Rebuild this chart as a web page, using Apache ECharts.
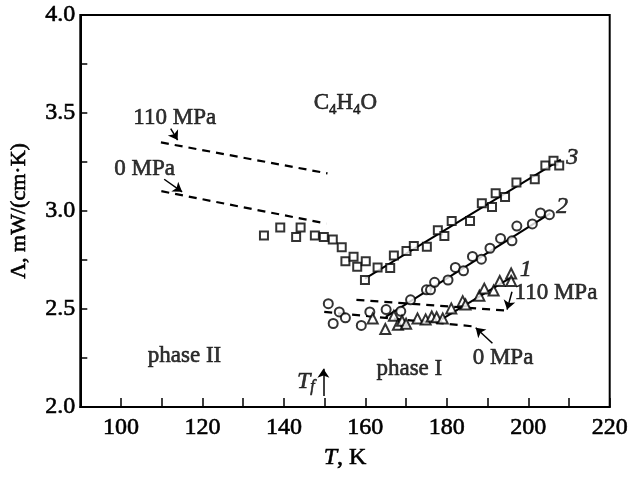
<!DOCTYPE html>
<html>
<head>
<meta charset="utf-8">
<script src="https://cdn.jsdelivr.net/npm/echarts@6/dist/echarts.min.js"></script>
<style>
  html, body { margin: 0; padding: 0; background: #fff; }
  #main { width: 631px; height: 477px; }
</style>
</head>
<body>
<div id="main"></div>
<script>
// curve 3 (squares)
var sqT = [135.1, 139.1, 143.0, 144.1, 147.6, 149.8, 152.0, 154.2, 155.1, 157.1, 158.0, 160.1, 159.9, 163.0, 166.1, 167.0, 170.1, 171.9, 175.1, 177.8, 179.4, 181.2, 185.7, 188.6, 191.1, 192.0, 194.3, 197.1, 201.6, 204.2, 206.2, 207.6];
var sqL = [2.875, 2.916, 2.867, 2.916, 2.875, 2.867, 2.855, 2.815, 2.744, 2.766, 2.716, 2.744, 2.648, 2.712, 2.709, 2.773, 2.796, 2.822, 2.818, 2.902, 2.872, 2.949, 2.949, 3.040, 3.020, 3.091, 3.071, 3.145, 3.162, 3.232, 3.256, 3.232];
// curve 2 (circles)
var ciT = [150.9, 152.1, 153.6, 155.1, 159.0, 161.1, 165.1, 168.7, 171.1, 175.0, 176.0, 177.0, 180.3, 182.1, 184.1, 186.3, 188.5, 190.6, 193.2, 196.0, 197.2, 201.0, 203.0, 205.2];
var ciL = [2.527, 2.426, 2.485, 2.455, 2.416, 2.485, 2.497, 2.488, 2.547, 2.598, 2.598, 2.636, 2.648, 2.712, 2.695, 2.768, 2.754, 2.810, 2.860, 2.848, 2.923, 2.934, 2.990, 2.981];
// curve 1 (triangles)
var trT = [161.8, 164.9, 167.0, 168.0, 169.0, 170.0, 172.8, 174.8, 176.3, 177.5, 179.0, 181.1, 183.9, 184.6, 188.0, 189.2, 191.5, 193.0, 195.8, 195.8];
var trL = [2.452, 2.398, 2.465, 2.420, 2.440, 2.425, 2.452, 2.447, 2.462, 2.458, 2.452, 2.503, 2.540, 2.523, 2.568, 2.604, 2.594, 2.643, 2.681, 2.643];

// fitted solid lines
var fit3 = [[159.9, 2.655], [208.0, 3.262]];
var fit2 = [[165.0, 2.460], [205.4, 2.988]];
var fit1 = [[178.8, 2.448], [196.3, 2.668]];
// dashed lines
var dash110L = [[109.8, 3.350], [150.7, 3.192]];
var dash0L = [[109.9, 3.101], [150.4, 2.936]];
var dash110R = [[157.8, 2.547], [194.8, 2.492]];
var dash0R = [[149.9, 2.485], [187.1, 2.410]];

// arrows [from, to]
var arrows = [
  [[112.2, 3.420], [113.9, 3.362]],
  [[110.6, 3.162], [115.0, 3.098]],
  [[196.0, 2.588], [194.8, 2.497]],
  [[191.2, 2.325], [187.1, 2.404]],
  [[149.7, 2.056], [149.7, 2.195]]
];

// annotation texts and positions
var annoText = ['{m|C}{s|4}{m|H}{s|4}{m|O}', '110 MPa', '0 MPa', '{i|3}', '{i|2}', '{i|1}', '110 MPa', '0 MPa', 'phase II', 'phase I', '{i|T}{si|f}'];
var annoT = [155.1, 113.2, 105.8, 210.8, 208.3, 199.4, 206.8, 193.8, 115.6, 170.8, 145.4];
var annoL = [3.545, 3.473, 3.212, 3.272, 3.022, 2.702, 2.584, 2.250, 2.258, 2.195, 2.131];

var xTicks = [100, 120, 140, 160, 180, 200, 220];

function zip(a, b) {
  return a.map(function (v, i) { return [v, b[i]]; });
}

var chart = echarts.init(document.getElementById('main'));
var font = 'Liberation Serif';
// thin outline to darken the serif glyphs like the scanned figure
var ink = { textBorderColor: '#000', textBorderWidth: 0.6 };

var rich = {
  m: Object.assign({ fontFamily: font, fontSize: 23, lineHeight: 26, verticalAlign: 'top', color: '#000' }, ink),
  s: Object.assign({ fontFamily: font, fontSize: 15, lineHeight: 15, padding: [11, 0, 0, 0], verticalAlign: 'top', color: '#000' }, ink),
  i: Object.assign({ fontFamily: font, fontSize: 24, fontStyle: 'italic', color: '#000' }, ink),
  si: Object.assign({ fontFamily: font, fontSize: 16, fontStyle: 'italic', padding: [10, 0, 0, 0], color: '#000' }, ink)
};

function lineSeries(data, dashed) {
  return {
    type: 'line',
    data: data,
    symbol: 'none',
    silent: true,
    lineStyle: { color: '#000', width: dashed ? 2.2 : 2, type: dashed ? [8, 6] : 'solid' },
    z: 3
  };
}

var hollow = { color: '#fff', borderColor: '#000', borderWidth: 2 };

var option = {
  backgroundColor: '#fff',
  animation: false,
  grid: {
    left: 77, right: 19, top: 15, bottom: 70,
    show: true, borderColor: '#000', borderWidth: 2, backgroundColor: 'transparent'
  },
  xAxis: {
    type: 'value',
    min: 90, max: 220, interval: 10,
    name: '{i|T}, K',
    nameLocation: 'middle',
    nameGap: 34,
    nameTextStyle: Object.assign({ fontFamily: font, fontSize: 24, color: '#000', rich: rich }, ink),
    axisLine: { show: true, lineStyle: { color: '#000', width: 2 } },
    axisTick: { show: true, inside: true, length: 9, lineStyle: { color: '#000', width: 1.5 } },
    axisLabel: Object.assign({
      fontFamily: font, fontSize: 24, color: '#000', margin: 9,
      formatter: function (v) { return xTicks.indexOf(v) >= 0 ? String(v) : ''; }
    }, ink),
    splitLine: { show: false }
  },
  yAxis: {
    type: 'value',
    min: 2, max: 4, interval: 0.25,
    name: 'Λ, mW/(cm·K)',
    nameLocation: 'middle',
    nameGap: 50,
    nameTextStyle: Object.assign({ fontFamily: font, fontSize: 22, color: '#000' }, ink),
    axisLine: { show: true, lineStyle: { color: '#000', width: 2 } },
    axisTick: { show: true, inside: true, length: 7, lineStyle: { color: '#000', width: 1.5 } },
    axisLabel: Object.assign({
      fontFamily: font, fontSize: 24, color: '#000', margin: 5,
      formatter: function (v) {
        return Math.abs(v * 2 - Math.round(v * 2)) < 1e-6 ? v.toFixed(1) : '';
      }
    }, ink),
    splitLine: { show: false }
  },
  series: [
    lineSeries(fit3, false),
    lineSeries(fit2, false),
    lineSeries(fit1, false),
    lineSeries(dash110L, true),
    lineSeries(dash0L, true),
    lineSeries(dash110R, true),
    lineSeries(dash0R, true),
    {
      type: 'scatter', data: zip(sqT, sqL), symbol: 'rect', symbolSize: 8,
      itemStyle: hollow, z: 4, silent: true
    },
    {
      type: 'scatter', data: zip(ciT, ciL), symbol: 'circle', symbolSize: 9,
      itemStyle: hollow, z: 4, silent: true
    },
    {
      type: 'scatter', data: zip(trT, trL), symbol: 'triangle', symbolSize: 10,
      itemStyle: hollow, z: 4, silent: true
    },
    {
      type: 'line',
      data: [],
      silent: true,
      markLine: {
        silent: true,
        animation: false,
        symbol: ['none', 'arrow'],
        symbolSize: 9,
        label: { show: false },
        lineStyle: { color: '#000', width: 1.5, type: 'solid' },
        itemStyle: { color: '#000' },
        data: arrows.map(function (a) {
          return [{ coord: a[0] }, { coord: a[1] }];
        })
      }
    },
    {
      type: 'scatter',
      silent: true,
      symbolSize: 0,
      z: 5,
      data: annoT.map(function (t, i) { return { value: [t, annoL[i]], txt: annoText[i] }; }),
      label: Object.assign({
        show: true,
        position: 'inside',
        fontFamily: font,
        fontSize: 23,
        color: '#000',
        rich: rich,
        formatter: function (p) { return p.data.txt; }
      }, ink)
    }
  ]
};

chart.setOption(option);
</script>
</body>
</html>
